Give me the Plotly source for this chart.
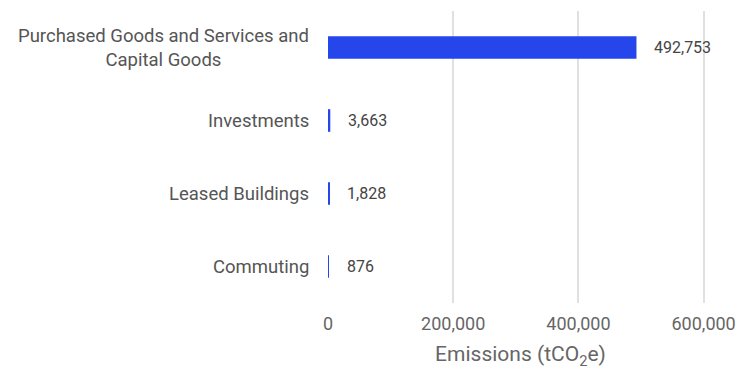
import plotly.graph_objects as go

categories = ["Purchased Goods and Services and Capital Goods", "Investments",
              "Leased Buildings", "Commuting"]
cat_labels = ["Purchased Goods and Services and<br>Capital Goods", "Investments",
              "Leased Buildings", "Commuting"]
emissions = [492753, 3663, 1828, 876]
tick_vals = [0, 200000, 400000, 600000]
tick_text = ["0", "200,000", "400,000", "600,000"]

font = "Roboto, Arial, sans-serif"

fig = go.Figure(go.Bar(
    x=emissions,
    y=categories,
    orientation="h",
    width=0.31,
    marker=dict(color="#2546EA", line=dict(width=0)),
))

# value labels next to the bars
for v, c in zip(emissions, categories):
    fig.add_annotation(x=v, y=c, text=f"{v:,}", showarrow=False,
                       xanchor="left", xshift=16,
                       font=dict(family=font, size=16, color="#444444"))

# category labels (centred multi-line)
for c, lab in zip(categories, cat_labels):
    fig.add_annotation(x=0, xref="paper", y=c, text=lab, showarrow=False,
                       xanchor="right", align="center", xshift=-17,
                       font=dict(family=font, size=18.5, color="#555555"))

fig.update_layout(
    width=738, height=370,
    margin=dict(l=328, r=25, t=11, b=67),
    paper_bgcolor="white", plot_bgcolor="white",
    showlegend=False,
)
fig.update_xaxes(
    range=[0, 615000], automargin=False,
    tickvals=tick_vals, ticktext=tick_text,
    showgrid=True, gridcolor="#e0e0e0", gridwidth=1.5,
    zeroline=False, showline=False, ticklabelstandoff=8,
    tickfont=dict(family=font, size=18, color="#666666"),
    title=dict(text="Emissions (tCO<sub>2</sub>e)", standoff=13,
               font=dict(family=font, size=21, color="#666666")),
)
fig.update_yaxes(
    categoryorder="array", categoryarray=categories[::-1],
    showgrid=False, zeroline=False, showline=False,
    showticklabels=False, ticks="", automargin=False,
)

# drop the browser's default body margin so the figure fills the window
fig.write_html("out.html", config={"displayModeBar": False},
               post_script="document.body.style.margin='0';")
